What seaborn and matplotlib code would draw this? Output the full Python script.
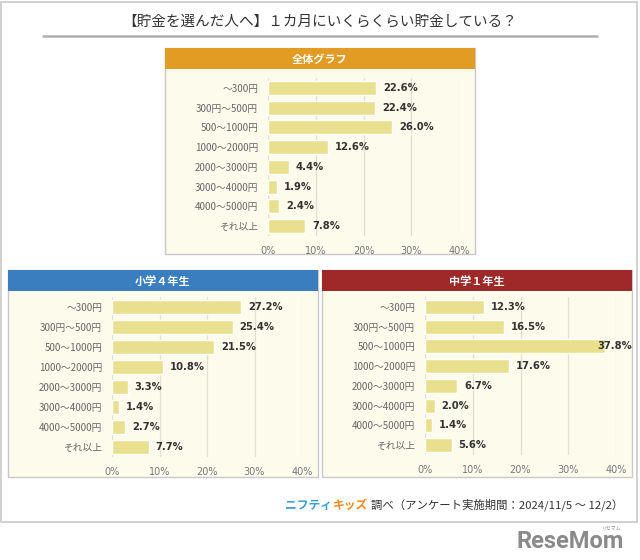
import matplotlib
matplotlib.use('Agg')
import matplotlib.pyplot as plt
from matplotlib.patches import Rectangle
from matplotlib.lines import Line2D
import seaborn as sns
import pandas as pd

sns.set_style('white')
plt.rcParams['font.family'] = ['Noto Sans CJK JP', 'DejaVu Sans']

# data
categories = ['～300円', '300円～500円', '500～1000円', '1000～2000円',
              '2000～3000円', '3000～4000円', '4000～5000円', 'それ以上']
all_pct = [22.6, 22.4, 26.0, 12.6, 4.4, 1.9, 2.4, 7.8]
grade4_pct = [27.2, 25.4, 21.5, 10.8, 3.3, 1.4, 2.7, 7.7]
jh1_pct = [12.3, 16.5, 37.8, 17.6, 6.7, 2.0, 1.4, 5.6]
xticks = [0, 10, 20, 30, 40]

title = '【貯金を選んだ人へ】１カ月にいくらくらい貯金している？'
panel_titles = ['全体グラフ', '小学４年生', '中学１年生']

W, H = 640, 560
fig = plt.figure(figsize=(6.4, 5.6), dpi=100)
fig.patch.set_facecolor('white')


def rect(x, y, w, h):
    return [x / W, 1 - (y + h) / H, w / W, h / H]


def add_box(x, y, w, h, **kw):
    l, b, ww, hh = rect(x, y, w, h)
    fig.add_artist(Rectangle((l, b), ww, hh, transform=fig.transFigure, zorder=-1, **kw))


# outer frame and title
add_box(1, 2, 636, 520, facecolor='none', edgecolor='#c8c8c8', lw=1.2)
fig.text(320 / W, 1 - 22 / H, title, ha='center', va='center', fontsize=10.5, color='#333333')
fig.add_artist(Line2D([43 / W, 597 / W], [1 - 36 / H, 1 - 36 / H],
                      transform=fig.transFigure, color='#b0b0b0', lw=1.8))

bar_color = '#e9e08f'
cream = '#fdfbec'


def panel(box, axbox, head_color, head_text, values):
    bx, by, bw, bh = box
    add_box(bx, by, bw, bh, facecolor=cream, edgecolor='#c8c8c8', lw=1)
    add_box(bx, by, bw, 21, facecolor=head_color, edgecolor='none')
    fig.text((bx + bw / 2) / W, 1 - (by + 11) / H, head_text, ha='center', va='center',
             fontsize=8, fontweight='bold', color='white')

    ax = fig.add_axes(rect(*axbox))
    ax.set_zorder(5)
    ax.set_facecolor('none')
    df = pd.DataFrame({'cat': categories, 'pct': values})
    sns.barplot(data=df, x='pct', y='cat', orient='h', color=bar_color,
                saturation=1, width=0.72, ax=ax, zorder=2)
    ax.set_xlim(0, 40)
    ax.set_ylim(len(categories) - 0.5, -0.5)
    ax.set_xticks(xticks)
    ax.set_xticklabels([f'{t}%' for t in xticks], family='DejaVu Sans')
    ax.set_xlabel('')
    ax.set_ylabel('')
    for t in xticks:
        ax.axvline(t, color='#e2e0d4', lw=0.9, zorder=0)
    for s in ax.spines.values():
        s.set_visible(False)
    ax.tick_params(axis='y', length=0, pad=7, labelsize=7, labelcolor='#666666')
    ax.tick_params(axis='x', length=0, pad=7, labelsize=7, labelcolor='#777777')
    for i, v in enumerate(values):
        off = 5 if v < 36 else -6
        ax.annotate(f'{v:.1f}%', (v, i), xytext=(off, 0), textcoords='offset points',
                    ha='left', va='center', fontsize=7.2, fontweight='bold',
                    family='DejaVu Sans', color='#333333', zorder=3)
    return ax


panel((165, 48, 310, 206), (268, 78, 191, 158), '#e29c23', panel_titles[0], all_pct)
panel((8, 270, 310, 207), (112, 297, 190, 160), '#3a7ec0', panel_titles[1], grade4_pct)
panel((322, 270, 310, 207), (425, 297, 191, 158), '#9d2a29', panel_titles[2], jh1_pct)

# footer: source text right-aligned, logo words placed to its left
renderer = fig.canvas.get_renderer()
src = fig.text(623 / W, 1 - 505 / H, '調べ（アンケート実施期間：2024/11/5 ～ 12/2）',
               ha='right', va='center', fontsize=8.2, color='#333333')
x0 = src.get_window_extent(renderer).x0 - 3
kids = fig.text(x0 / W, 1 - 505 / H, 'キッズ', ha='right', va='center', fontsize=8.5,
                fontweight='bold', color='#f08a1e')
x1 = kids.get_window_extent(renderer).x0
fig.text(x1 / W, 1 - 505 / H, 'ニフティ', ha='right', va='center', fontsize=8.5,
         fontweight='bold', color='#3a9fcc', style='italic')
fig.text(624 / W, 1 - 541 / H, 'ReseMom', ha='right', va='center', fontsize=17,
         fontweight='bold', color='#8a8a8a', family=['Roboto', 'DejaVu Sans'])
fig.text(612 / W, 1 - 528 / H, 'リセマム', ha='center', va='center', fontsize=3.5,
         color='#8a8a8a')

fig.savefig('out.png', dpi=100)
